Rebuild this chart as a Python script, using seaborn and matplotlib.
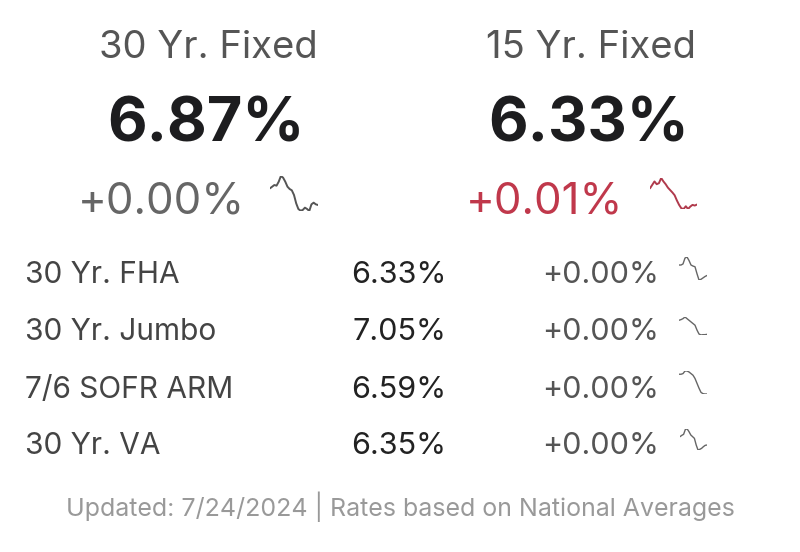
import numpy as np
import matplotlib
matplotlib.use('Agg')
import matplotlib.pyplot as plt
import seaborn as sns

# Headline products
main_names = ['30 Yr. Fixed', '15 Yr. Fixed']
main_rates = ['6.87%', '6.33%']
main_changes = ['+0.00%', '+0.01%']
main_trend_30 = [70, 75, 80, 78, 90, 107, 102, 90, 75, 68, 64, 50, 25, 8, 3, 5, 12, 8, 2, 22, 27, 22, 20]
main_trend_15 = [70, 80, 90, 82, 85, 100, 90, 82, 72, 65, 58, 50, 35, 22, 12, 10, 18, 10, 17, 22, 20, 23]

# Other products
row_names = ['30 Yr. FHA', '30 Yr. Jumbo', '7/6 SOFR ARM', '30 Yr. VA']
row_rates = ['6.33%', '7.05%', '6.59%', '6.35%']
row_changes = ['+0.00%', '+0.00%', '+0.00%', '+0.00%']
trend_fha = [55, 55, 58, 75, 78, 68, 55, 52, 50, 30, 12, 14, 18, 22, 25]
trend_jumbo = [50, 52, 55, 60, 55, 50, 45, 40, 35, 20, 8, 5, 6, 6, 7]
trend_arm = [68, 68, 70, 78, 78, 75, 70, 65, 55, 40, 25, 12, 8, 7, 7]
trend_va = [45, 49, 52, 67, 68, 60, 50, 45, 40, 20, 5, 7, 10, 15, 19, 20]

footer = 'Updated: 7/24/2024 | Rates based on National Averages'

sns.set_theme(style='white')
plt.rcParams['font.family'] = ['Inter', 'DejaVu Sans']

W, H = 800, 552
fig = plt.figure(figsize=(W / 100, H / 100), dpi=100)
fig.patch.set_facecolor('white')
ax = fig.add_axes([0, 0, 1, 1])
ax.set_xlim(0, W)
ax.set_ylim(H, 0)
ax.axis('off')

RED = '#c0384b'


def spark(values, box, color, lw=1.1):
    x0, y0, x1, y1 = box
    sax = fig.add_axes([x0 / W, 1 - y1 / H, (x1 - x0) / W, (y1 - y0) / H])
    sns.lineplot(x=np.arange(len(values)), y=values, ax=sax, color=color, linewidth=lw)
    sax.set_xlim(0, len(values) - 1)
    sax.set_ylim(min(values), max(values))
    sax.axis('off')
    sax.patch.set_alpha(0)


# headline blocks
centers = [208, 591]
change_colors = ['#666666', RED]
change_x = [78, 466]
spark_boxes = [(270, 176, 318, 211), (650, 178, 697, 209)]
spark_colors = ['#555555', '#b03a4c']
trends = [main_trend_30, main_trend_15]
for i in range(2):
    ax.text(centers[i], 48, main_names[i], ha='center', va='center',
            fontsize=27.5, color='#555555')
    ax.text(centers[i] - 2, 125, main_rates[i], ha='center', va='center',
            fontsize=44, fontweight='bold', color='#1d1d1f')
    ax.text(change_x[i], 202, main_changes[i], ha='left', va='center',
            fontsize=31.5, color=change_colors[i])
    spark(trends[i], spark_boxes[i], spark_colors[i], lw=1.4)

# rows
row_y = [275, 332, 390, 446]
row_trends = [trend_fha, trend_jumbo, trend_arm, trend_va]
row_boxes = [(679, 257, 707, 280), (679, 317, 707, 335), (679, 371, 707, 394), (680, 429, 707, 450)]
for i in range(4):
    ax.text(25, row_y[i], row_names[i], ha='left', va='center',
            fontsize=21.5, color='#444444')
    ax.text(399, row_y[i], row_rates[i], ha='center', va='center',
            fontsize=22, color='#222222')
    ax.text(659, row_y[i], row_changes[i], ha='right', va='center',
            fontsize=22, color='#555555')
    spark(row_trends[i], row_boxes[i], '#666666', lw=1.0)

ax.text(400, 507, footer, ha='center', va='center', fontsize=18, color='#999999')

fig.savefig('out.png', dpi=100, facecolor='white')
